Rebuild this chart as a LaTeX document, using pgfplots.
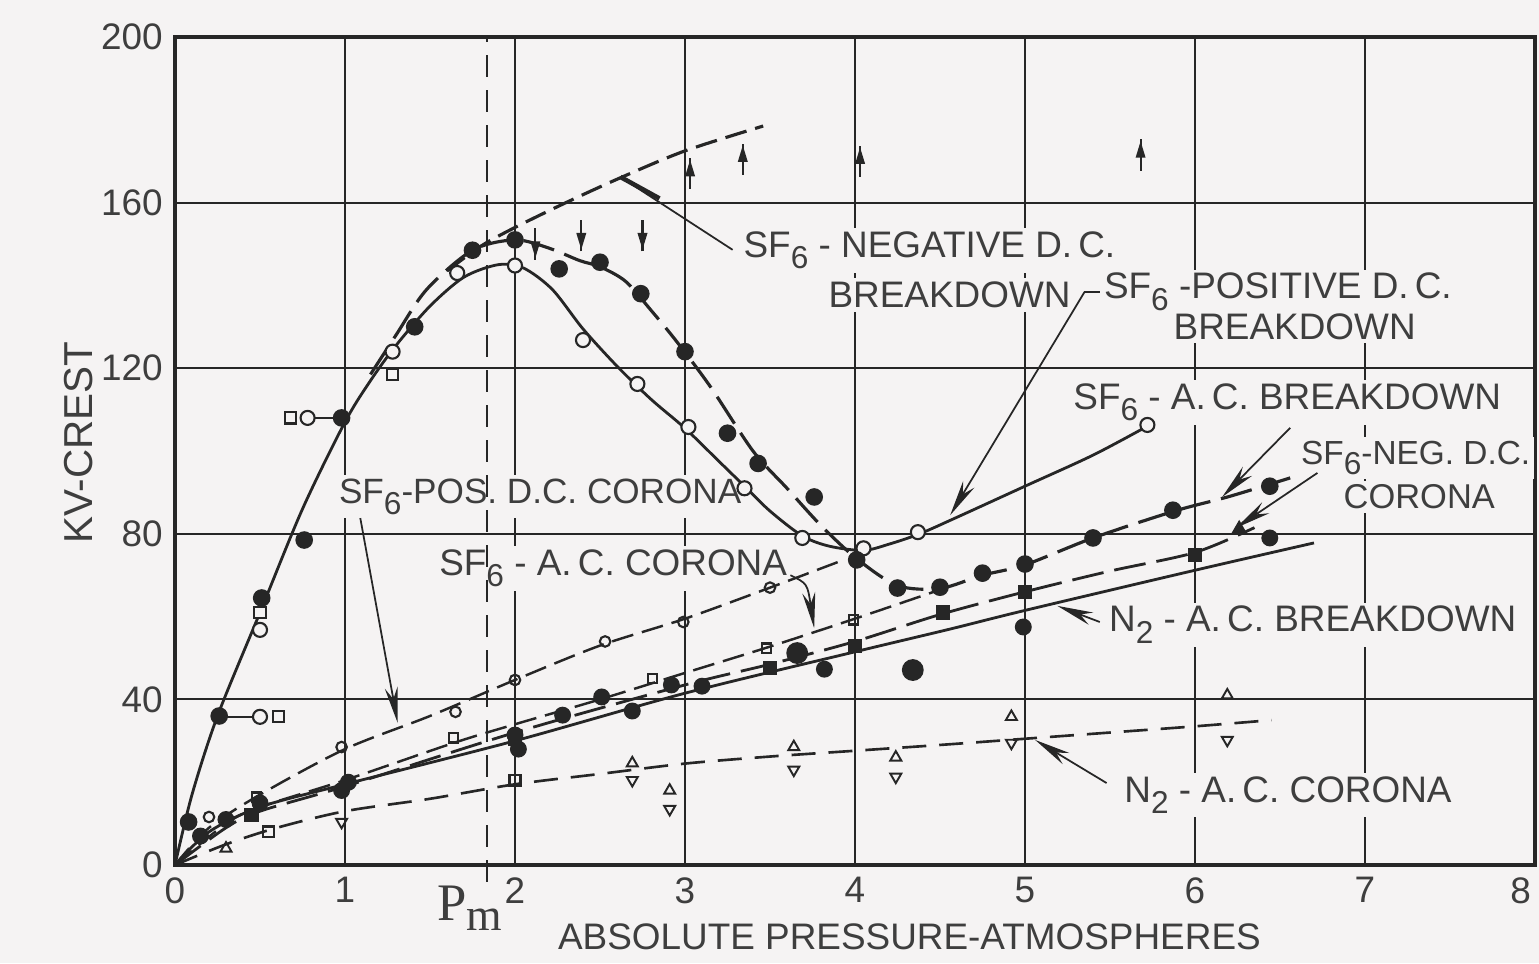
\documentclass[border=0pt]{standalone}
\usepackage{pgfplots}
\pgfplotsset{compat=1.18}
\usepackage{fontspec}
\setmainfont{Liberation Sans}
\newfontfamily\seriffont{Liberation Serif}
\usetikzlibrary{arrows.meta}
\definecolor{bg}{RGB}{245,243,243}
\definecolor{ink}{RGB}{38,38,38}
\definecolor{txt}{RGB}{62,62,62}

\pgfdeclareplotmark{uparr}{%
  \pgfpathmoveto{\pgfpoint{0pt}{-1.7\pgfplotmarksize}}%
  \pgfpathlineto{\pgfpoint{0pt}{1.7\pgfplotmarksize}}%
  \pgfusepathqstroke
  \pgfpathmoveto{\pgfpoint{0pt}{1.5\pgfplotmarksize}}%
  \pgfpathlineto{\pgfpoint{-0.55\pgfplotmarksize}{-0.3\pgfplotmarksize}}%
  \pgfpathlineto{\pgfpoint{0.55\pgfplotmarksize}{-0.3\pgfplotmarksize}}%
  \pgfpathclose\pgfusepathqfill}
\pgfdeclareplotmark{dnarr}{%
  \pgfpathmoveto{\pgfpoint{0pt}{-1.7\pgfplotmarksize}}%
  \pgfpathlineto{\pgfpoint{0pt}{1.7\pgfplotmarksize}}%
  \pgfusepathqstroke
  \pgfpathmoveto{\pgfpoint{0pt}{-1.5\pgfplotmarksize}}%
  \pgfpathlineto{\pgfpoint{-0.55\pgfplotmarksize}{0.3\pgfplotmarksize}}%
  \pgfpathlineto{\pgfpoint{0.55\pgfplotmarksize}{0.3\pgfplotmarksize}}%
  \pgfpathclose\pgfusepathqfill}

\newcommand{\sub}[1]{\raisebox{-0.6ex}{\fontsize{9}{9}\selectfont #1}}
\newcommand{\sfsix}{SF\sub{6}}
\newcommand{\ntwo}{N\sub{2}}

\tikzset{
  lab/.style={fill=bg, inner sep=1pt, anchor=west, text=txt, font=\fontsize{10.5}{12}\selectfont},
  longdash/.style={dash pattern=on 3.2mm off 1.1mm},
  meddash/.style={dash pattern=on 2.2mm off 0.9mm},
  shdash/.style={dash pattern=on 2.4mm off 1.3mm},
  arr/.style={ink, line width=0.5pt, -{Stealth[length=3.6mm,width=1.3mm]}},
}

\begin{document}
\begin{tikzpicture}
\useasboundingbox (-17.5mm,-9.8mm) rectangle (136.4mm,86.5mm);
\fill[bg] (-17.5mm,-9.8mm) rectangle (136.4mm,86.5mm);
\begin{axis}[
  at={(0,0)}, anchor=south west,
  scale only axis, width=136mm, height=82.8mm,
  xmin=0, xmax=8, ymin=0, ymax=200,
  xtick={0,1,...,8}, ytick={0,40,...,200},
  xticklabels={0,1,2,3,4,5,6,7,\llap{8\hspace{0.4mm}}},
  grid=major,
  major grid style={ink, line width=0.55pt},
  axis line style={ink, line width=0.9pt},
  major tick length=0pt,
  tick label style={text=txt, font=\fontsize{10.5}{12}\selectfont},
  /pgf/number format/assume math mode=true,
  clip=false,
  every axis plot/.append style={ink, line width=0.8pt},
]

% ---- labels (drawn first so curves pass over their boxes) ----
\node[lab] at (axis cs:3.32,148.5) {\sfsix\ - NEGATIVE D.\,C.};
\node[lab] at (axis cs:3.82,137.7) {BREAKDOWN};
\node[lab] at (axis cs:5.44,138.4) {\sfsix\ -POSITIVE D.\,C.};
\node[lab] at (axis cs:5.85,130) {BREAKDOWN};
\node[lab] at (axis cs:5.26,111.8) {\sfsix\ - A.\,C. BREAKDOWN};
\node[lab, font=\fontsize{9.5}{12}\selectfont] at (axis cs:6.6,98.3) {\sfsix-NEG. D.C.};
\node[lab, font=\fontsize{9.8}{12}\selectfont] at (axis cs:6.85,88.9) {CORONA};
\node[lab] at (axis cs:5.47,58) {\ntwo\ - A.\,C. BREAKDOWN};
\node[lab] at (axis cs:5.56,16.9) {\ntwo\ - A.\,C. CORONA};
\node[lab, font=\fontsize{10}{12}\selectfont] at (axis cs:0.94,88.9) {\sfsix-POS. D.C. CORONA};
\node[lab] at (axis cs:1.53,71.7) {\sfsix\ - A.\,C. CORONA};

% ---- Pm dashed line ----
\draw[ink, line width=0.55pt, dash pattern=on 2.2mm off 1.3mm] (axis cs:1.835,-4) -- (axis cs:1.835,200);

% ---- SF6 positive DC breakdown (solid, open circles) ----
\addplot[smooth] coordinates {(0,0)(0.1,17)(0.25,36)(0.5,61)(0.75,86)(1,107)(1.15,117)(1.3,125.5)(1.5,135)(1.7,142)(1.9,145)(2.05,144.2)(2.22,139)(2.4,129.5)(2.6,120.5)(2.8,112.5)(3.0,105.5)(3.2,97.5)(3.35,91.5)(3.5,85.5)(3.69,79.5)(3.85,77)(4.05,76)(4.2,77.5)(4.38,80)(4.6,84)(5.0,91.5)(5.4,99)(5.72,106)};
\addplot[only marks, mark=*, mark size=2pt, mark options={fill=bg, line width=0.6pt}] coordinates {(0.5,56.8)(1.28,124)(1.66,143)(2,144.8)(2.4,126.8)(2.72,116.2)(3.02,105.8)(3.35,91)(3.69,79)(4.05,76.5)(4.37,80.4)(5.72,106.3)(0.5,35.8)(0.78,108)};
\addplot[only marks, mark=square*, mark size=1.6pt, mark options={fill=bg, line width=0.6pt}] coordinates {(0.5,61)(1.28,118.5)(0.61,35.8)(0.68,108)};
\addplot[line width=0.5pt] coordinates {(0.26,35.8)(0.46,35.8)};
\addplot[line width=0.5pt] coordinates {(0.82,108)(1,108)};

% ---- SF6 AC breakdown (long dash, filled dots) ----
\addplot[smooth, longdash, line width=0.9pt] coordinates {(1.15,118.5)(1.3,128)(1.48,139)(1.75,148.5)(2,151)(2.2,149)(2.38,146)(2.5,144.5)(2.65,141)(2.8,134)(2.95,126.5)(3.15,115.5)(3.4,100)(3.6,91)(3.8,82)(4.01,74)(4.25,67.5)(4.5,66.8)(4.75,70)(5,72.5)(5.4,79)(5.88,85.5)(6.2,89)(6.56,93.5)};
\addplot[only marks, mark=*, mark size=2.1pt] coordinates {(0.08,10.4)(0.26,36)(0.51,64.5)(0.76,78.5)(0.98,108)(1.41,130)(1.75,148.5)(2,151)(2.26,144)(2.5,145.6)(2.74,138)(3,124)(3.25,104.3)(3.43,97)(3.76,88.9)(4.01,73.7)(4.25,66.9)(4.5,67.1)(4.75,70.5)(5,72.7)(5.4,79)(5.87,85.7)(6.44,91.5)};

% ---- SF6 negative DC breakdown (dashed, arrow marks) ----
\addplot[smooth, meddash, line width=0.9pt] coordinates {(1.6,143.5)(1.8,149.5)(2,154)(2.3,160)(2.62,166)(3,172.5)(3.46,178.5)};
\addplot[only marks, mark=dnarr, mark size=2.6pt, line width=0.6pt] coordinates {(2.12,150)(2.39,152)(2.75,152)};
\addplot[only marks, mark=uparr, mark size=2.6pt, line width=0.6pt] coordinates {(3.03,167)(3.34,170.5)(4.03,170)(5.68,171.5)};

% ---- SF6 positive DC corona (dashed, open circles) ----
\addplot[smooth, meddash, line width=0.7pt] coordinates {(0,0)(0.2,9)(0.5,17)(1,28)(1.5,36)(2,44.7)(2.5,53)(3,59.5)(3.5,67)(3.92,73.5)};
\addplot[only marks, mark=o, mark size=1.5pt, mark options={line width=0.6pt}] coordinates {(0.2,11.6)(0.98,28.5)(1.65,37)(2,44.7)(2.53,54)(2.99,58.7)(3.5,67)};

% ---- SF6 AC corona (dashed, small open squares) ----
\addplot[smooth, meddash, line width=0.7pt] coordinates {(0,0)(0.3,10)(0.5,14)(1,20.5)(1.64,29.5)(2,34)(2.5,40)(3,46.4)(3.48,52.5)(4,59.5)(4.5,66.5)};
\addplot[only marks, mark=square, mark size=1.3pt, mark options={line width=0.6pt}] coordinates {(0.48,16.4)(1.64,30.7)(2.81,45)(3.48,52.4)(3.99,59.2)};

% ---- SF6 negative DC corona (long dash, filled squares) ----
\addplot[smooth, longdash, line width=0.8pt] coordinates {(0,0)(0.3,9)(0.5,13)(1,19)(2,32)(3,43.5)(3.5,48.5)(4,54)(4.5,60.5)(5,66)(5.5,71)(6,75.5)(6.35,81.5)};
\addplot[only marks, mark=square*, mark size=1.6pt] coordinates {(0.45,12)(2,30.5)(3.5,47.6)(4,53)(4.52,61)(5,66)(6,74.9)};
\addplot[only marks, mark=triangle*, mark size=2pt] coordinates {(6.26,81)};

% ---- N2 AC breakdown (solid, filled dots) ----
\addplot[smooth, line width=0.8pt] coordinates {(0,0)(0.2,8)(0.5,14)(1,19.5)(2,30)(3,41.5)(4,51.5)(4.56,57)(5,61.5)(6,71.2)(6.7,77.8)};
\addplot[only marks, mark=*, mark size=2pt] coordinates {(0.15,7)(0.3,11)(0.5,15)(0.98,18)(1.02,20)(2,31.4)(2.02,28)(2.28,36.2)(2.51,40.6)(2.69,37.2)(2.92,43.5)(3.1,43.2)(3.82,47.3)(4.99,57.5)(6.44,79)};
\addplot[only marks, mark=*, mark size=2.7pt] coordinates {(3.66,51.2)(4.34,47.1)};

% ---- N2 AC corona (dashed, triangles) ----
\addplot[smooth, shdash, line width=0.75pt] coordinates {(0,0)(0.3,5)(0.6,9)(1,13)(1.5,16)(2,19.5)(2.5,22)(3,24.5)(3.5,26.2)(4,27.6)(4.5,29)(5,30.5)(5.5,32)(6,33.5)(6.45,35)};
\addplot[only marks, mark=triangle, mark size=1.8pt, mark options={line width=0.55pt}] coordinates {(0.3,4)(2.69,24.6)(2.91,18)(3.64,28.5)(4.24,26)(4.92,35.8)(6.19,41)};
\addplot[only marks, mark=triangle, mark size=1.8pt, mark options={rotate=180, line width=0.55pt}] coordinates {(0.98,10.4)(2.69,20.5)(2.91,13.5)(3.64,23)(4.24,21.3)(4.92,29.5)(6.19,30.2)};
\addplot[only marks, mark=square, mark size=1.5pt, mark options={line width=0.7pt}] coordinates {(2,20.5)(0.55,8)};

% ---- leader lines ----
\draw[ink, line width=0.5pt] (axis cs:3.28,148.6) -- (axis cs:2.62,166.2);
\draw[ink, line width=1.3pt] (axis cs:2.62,166.2) -- (axis cs:2.85,161);
\draw[ink, line width=0.5pt] (axis cs:5.44,138.4) -- (axis cs:5.35,138.4);
\draw[arr] (axis cs:5.35,138.4) -- (axis cs:4.56,84.5);
\draw[arr] (axis cs:6.56,105.6) -- (axis cs:6.16,88.9);
\draw[arr] (axis cs:6.72,94.7) -- (axis cs:6.24,81.4);
\draw[arr] (axis cs:5.44,58.7) -- (axis cs:5.19,62.6);
\draw[arr] (axis cs:5.48,19.8) -- (axis cs:5.06,30.2);
\draw[arr] (axis cs:1.09,83.8) -- (axis cs:1.31,34.3);
\draw[arr] (axis cs:3.62,70) .. controls (axis cs:3.72,68) .. (axis cs:3.76,57.2);

% ---- axis texts ----
\node[text=txt, font=\seriffont\fontsize{15}{15}\selectfont] at ([yshift=-4.3mm]axis cs:1.735,0) {P\raisebox{-0.4ex}{\fontsize{13}{13}\selectfont m}};
\node[text=txt, font=\fontsize{10.5}{12}\selectfont] at ([yshift=-7.2mm]axis cs:4.32,0) {ABSOLUTE PRESSURE-ATMOSPHERES};
\node[text=txt, font=\fontsize{11.5}{12}\selectfont, rotate=90] at ([xshift=-9.6mm]axis cs:0,102) {KV-CREST};
\end{axis}
\end{tikzpicture}
\end{document}
